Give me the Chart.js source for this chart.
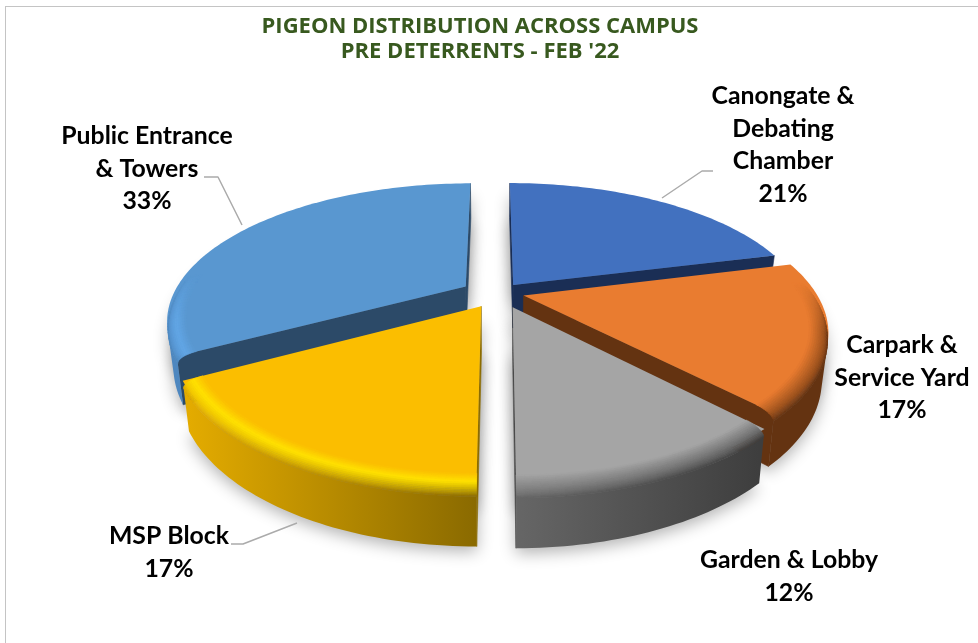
<!DOCTYPE html>
<html>
<head>
<meta charset="utf-8">
<style>
html,body{margin:0;padding:0;background:#fff;overflow:hidden}
#wrap{position:relative;width:978px;height:643px}
#frame{position:absolute;left:5px;top:6px;right:-4px;bottom:-4px;border:1px solid #c4c4c4}
canvas{position:absolute;left:0;top:0}
</style>
<script src="https://cdn.jsdelivr.net/npm/chart.js@4"></script>
</head>
<body>
<div id="wrap"><div id="frame"></div><canvas id="c" width="978" height="643"></canvas></div>
<script>
// ---- data ----
const titleLines = ['PIGEON DISTRIBUTION ACROSS CAMPUS', "PRE DETERRENTS - FEB '22"];
const categories = ['Canongate & Debating Chamber', 'Carpark & Service Yard', 'Garden & Lobby', 'MSP Block', 'Public Entrance & Towers'];
const values = [21, 17, 12, 17, 33];
const labelLines = [['Canongate &', 'Debating', 'Chamber'], ['Carpark &', 'Service Yard'], ['Garden & Lobby'], ['MSP Block'], ['Public Entrance', '& Towers']];

// ---- styles ----
const faceColors = ['#4271BF', '#E97C30', '#A5A5A5', '#FBBE00', '#5997D0'];
const cutColors  = ['#1A2E55', '#643311', '#4A4A4A', '#8C6C00', '#2C4A68'];
const sideLeft   = ['#1F3864', '#643311', '#666666', '#E3AB00', '#4E87BF'];
const sideRight  = ['#1F3864', '#643311', '#3E3E3E', '#8A6A00', '#4E87BF'];
const highlight  = [null, null, null, '#FFE200', '#62A6E6'];
const xNudge     = [0, 0, 6, 0, -6];
const yNudge     = [0, -3, 0, 0, -2];
const labelCenters = [[783, 96], [902, 345], [789, 560], [169, 536], [147, 136]];
const lineGap = 32.6;
const leaders = [[[662, 198], [702, 171], [713, 171]], null, null, [[297, 523], [243, 544], [231, 544]], [[242, 225], [218, 177], [204, 177]]];

// ---- projection of the pie's unit disc onto the picture ----
const VIEW = {x0: 496, y0: 295, b: 292, a: 131, k: 0.242, depth: 43.5, converge: 0.02};
const BEVEL = {rIn: 0.94, z: 0.15, bands: 14};

function project(u, v, z) {
  const w = 1 + VIEW.k * v;
  return [VIEW.x0 + VIEW.b * u / w * (1 - VIEW.converge * z), VIEW.y0 - VIEW.a * v / w + VIEW.depth * z / w];
}
function rgb(h) { return [1, 3, 5].map(i => parseInt(h.slice(i, i + 2), 16)); }
function mix(a, b, t) {
  t = Math.min(1, Math.max(0, t));
  const A = rgb(a), B = rgb(b);
  return '#' + A.map((c, i) => Math.round(c + (B[i] - c) * t).toString(16).padStart(2, '0')).join('');
}
function poly(ctx, pts) {
  ctx.beginPath();
  pts.forEach((p, i) => i ? ctx.lineTo(p[0], p[1]) : ctx.moveTo(p[0], p[1]));
  ctx.closePath();
}
function area(pts) {
  let s = 0;
  pts.forEach((p, i) => { const q = pts[(i + 1) % pts.length]; s += p[0] * q[1] - q[0] * p[1]; });
  return s / 2;
}
function sliceGeom(el, i) {
  const mid = (el.startAngle + el.endAngle) / 2;
  const e = el.options.offset / el.outerRadius;
  const ox = e * Math.cos(mid), oy = -e * Math.sin(mid);
  const pt = (a, r, z) => {
    const p = project(ox + r * Math.cos(a), oy - r * Math.sin(a), z);
    return [p[0] + xNudge[i], p[1] + yNudge[i]];
  };
  const steps = Math.ceil((el.endAngle - el.startAngle) / (Math.PI / 150));
  const angles = [];
  for (let s = 0; s <= steps; s++) angles.push(el.startAngle + (el.endAngle - el.startAngle) * s / steps);
  return {mid, ox, oy, pt, angles};
}

const pie3d = {
  id: 'pie3d',
  beforeDatasetDraw() { return false; },
  afterDatasetsDraw(chart) {
    const ctx = chart.ctx;
    const els = chart.getDatasetMeta(0).data;
    const order = els.map((el, i) => i);
    const geoms = els.map(sliceGeom);
    order.sort((a, b) => Math.sin(geoms[a].mid) - Math.sin(geoms[b].mid));
    ctx.save();
    // soft floor shadow, thrown from a copy outside the picture
    ctx.shadowColor = 'rgba(0,0,0,0.30)';
    ctx.shadowBlur = 16;
    ctx.shadowOffsetX = 3000;
    ctx.shadowOffsetY = 5;
    ctx.fillStyle = '#000';
    order.forEach(i => {
      const g = geoms[i];
      [1, 0.3].forEach(z => {
        const pts = [g.pt(0, 0, z)].concat(g.angles.map(a => g.pt(a, 1, z)));
        poly(ctx, pts.map(p => [p[0] - 3000, p[1]]));
        ctx.fill();
      });
    });
    ctx.restore();

    order.forEach(i => {
      const g = geoms[i];
      // straight cut walls: only those that look at the viewer
      const first = g.angles[0], last = g.angles[g.angles.length - 1];
      [[first, -1], [last, 1]].forEach(([a, sign]) => {
        const pts = [g.pt(0, 0, 0), g.pt(a, 1, 0), g.pt(a, 1, 1), g.pt(0, 0, 1)];
        if (area(pts) * sign > 0) {
          poly(ctx, pts);
          ctx.fillStyle = cutColors[i]; ctx.strokeStyle = cutColors[i]; ctx.lineWidth = 0.6;
          ctx.fill(); ctx.stroke();
        }
      });
      // curved wall: the part of the rim that looks at the viewer
      const faces = s => {
        if (s < 0 || s >= g.angles.length - 1) return false;
        const a = g.angles[s], b = g.angles[s + 1];
        return area([g.pt(a, 1, 0.1), g.pt(b, 1, 0.1), g.pt(b, 1, 1), g.pt(a, 1, 1)]) < 0;
      };
      const arc = g.angles.filter((a, s) => faces(s) || faces(s - 1));
      let minX = 1e9, maxX = -1e9;
      g.angles.forEach(a => { const q = g.pt(a, 1, 1); minX = Math.min(minX, q[0]); maxX = Math.max(maxX, q[0]); });
      const sideAt = x => mix(sideLeft[i], sideRight[i], (x - minX) / Math.max(1, maxX - minX));
      if (arc.length) {
        const pts = arc.map(a => g.pt(a, 1, BEVEL.z)).concat(arc.slice().reverse().map(a => g.pt(a, 1, 1)));
        const grad = ctx.createLinearGradient(minX, 0, maxX, 0);
        grad.addColorStop(0, sideLeft[i]);
        grad.addColorStop(1, sideRight[i]);
        poly(ctx, pts);
        ctx.fillStyle = grad;
        ctx.fill();
      }
      // top face
      poly(ctx, [g.pt(0, 0, 0)].concat(g.angles.map(a => g.pt(a, 1, 0))));
      ctx.fillStyle = faceColors[i]; ctx.fill();
      // rounded bevel between face and wall, only where the rim looks at the viewer
      for (let s = 0; s < g.angles.length - 1; s++) {
        const a = g.angles[s], b = g.angles[s + 1], m = (a + b) / 2;
        const facing = Math.min(1, Math.max(0, (0.1 + Math.sin(m)) / 0.35));
        if (facing <= 0) continue;
        for (let n = 0; n < BEVEL.bands; n++) {
          const t0 = n / BEVEL.bands, t1 = (n + 1) / BEVEL.bands;
          const r0 = BEVEL.rIn + (1 - BEVEL.rIn) * Math.sin(t0 * Math.PI / 2);
          const r1 = BEVEL.rIn + (1 - BEVEL.rIn) * Math.sin(t1 * Math.PI / 2);
          const z0 = BEVEL.z * (1 - Math.cos(t0 * Math.PI / 2));
          const z1 = BEVEL.z * (1 - Math.cos(t1 * Math.PI / 2));
          const pts = [g.pt(a, r0, z0), g.pt(b, r0, z0), g.pt(b, r1, z1), g.pt(a, r1, z1)];
          const tm = (t0 + t1) / 2;
          const side = sideAt(pts[3][0]);
          let col;
          if (highlight[i]) col = tm < 0.35 ? mix(faceColors[i], highlight[i], tm / 0.35) : mix(highlight[i], side, (tm - 0.35) / 0.65);
          else col = mix(faceColors[i], side, tm);
          col = mix(faceColors[i], col, facing);
          poly(ctx, pts);
          ctx.fillStyle = col; ctx.strokeStyle = col; ctx.lineWidth = 0.6;
          ctx.fill(); ctx.stroke();
        }
      }
    });
  },
  afterDraw(chart) {
    const ctx = chart.ctx;
    ctx.save();
    ctx.strokeStyle = '#ABABAB'; ctx.lineWidth = 1.5; ctx.lineJoin = 'round';
    leaders.forEach(path => {
      if (!path) return;
      ctx.beginPath();
      path.forEach((p, i) => i ? ctx.lineTo(p[0], p[1]) : ctx.moveTo(p[0], p[1]));
      ctx.stroke();
    });
    ctx.fillStyle = '#000';
    ctx.font = 'bold 24.8px Lato';
    ctx.textAlign = 'center'; ctx.textBaseline = 'middle';
    labelLines.forEach((lines, i) => {
      const rows = lines.concat(values[i] + '%');
      rows.forEach((t, r) => ctx.fillText(t, labelCenters[i][0], labelCenters[i][1] + r * lineGap));
    });
    ctx.restore();
  }
};

new Chart(document.getElementById('c'), {
  type: 'pie',
  data: {labels: categories, datasets: [{data: values, backgroundColor: faceColors, borderWidth: 0, offset: 26}]},
  plugins: [pie3d],
  options: {
    responsive: false,
    animation: false,
    layout: {padding: {top: 10, right: 18, bottom: 10, left: 0}},
    plugins: {
      legend: {display: false},
      tooltip: {enabled: false},
      title: {
        display: true,
        text: titleLines,
        color: '#38591F',
        font: {family: '"Open Sans"', size: 22, weight: 'bold', lineHeight: 1.14},
        padding: {top: 4, bottom: 10}
      }
    }
  }
});
</script>
</body>
</html>
